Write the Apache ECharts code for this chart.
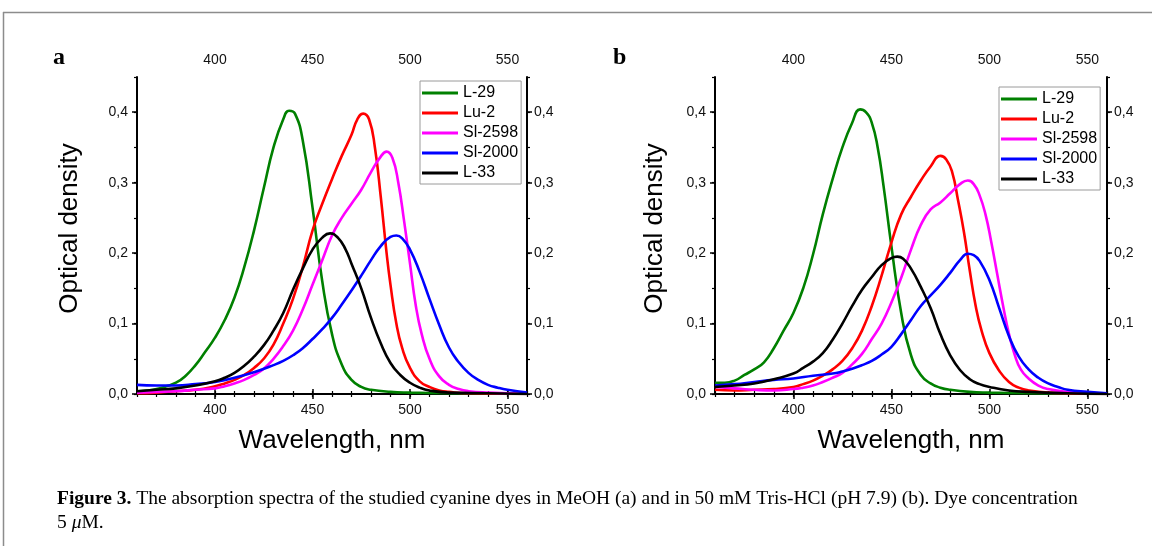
<!DOCTYPE html>
<html><head><meta charset="utf-8">
<script src="https://cdn.jsdelivr.net/npm/echarts@6/dist/echarts.min.js"></script>
<style>html,body{margin:0;padding:0;background:#fff}#c{width:1152px;height:546px}</style>
</head><body><div id="c"></div>
<script>
// ---- data ----
const seriesNames = ['L-29', 'Lu-2', 'Sl-2598', 'Sl-2000', 'L-33'];
const seriesColors = ['#008000', '#ff0000', '#ff00ff', '#0000ff', '#000000'];
const xTickLabels = [400, 450, 500, 550];
const yTickLabels = [0, 0.1, 0.2, 0.3, 0.4];

// Panel a (MeOH)
const a_L29 = [[360,0.004],[365,0.005],[370,0.007],[375,0.011],[380,0.016],[385,0.026],[390,0.041],[395,0.060],[400,0.080],[405,0.105],[410,0.137],[415,0.180],[420,0.232],[425,0.292],[430,0.350],[435,0.390],[438,0.402],[441,0.398],[445,0.360],[450,0.265],[455,0.160],[460,0.085],[465,0.042],[470,0.020],[475,0.010],[480,0.006],[490,0.003],[500,0.002],[520,0.001],[560,0.000]];
const a_Lu2 = [[360,0.001],[370,0.002],[380,0.004],[390,0.006],[400,0.011],[405,0.015],[410,0.020],[415,0.027],[420,0.037],[425,0.050],[430,0.070],[435,0.100],[440,0.135],[445,0.180],[450,0.232],[455,0.270],[460,0.305],[465,0.338],[470,0.368],[473,0.390],[476,0.398],[479,0.390],[482,0.350],[485,0.280],[488,0.200],[490,0.155],[493,0.100],[496,0.065],[500,0.037],[505,0.018],[510,0.010],[515,0.005],[520,0.003],[530,0.001],[560,0.000]];
const a_Sl2598 = [[360,0.002],[370,0.003],[380,0.004],[390,0.006],[400,0.008],[405,0.011],[410,0.015],[415,0.020],[420,0.027],[425,0.036],[430,0.050],[435,0.068],[440,0.090],[445,0.120],[450,0.155],[455,0.190],[460,0.225],[465,0.250],[470,0.270],[475,0.290],[480,0.315],[485,0.337],[488,0.344],[491,0.335],[494,0.300],[497,0.245],[500,0.185],[503,0.125],[506,0.085],[510,0.050],[515,0.025],[520,0.013],[525,0.007],[530,0.004],[540,0.002],[560,0.000]];
const a_Sl2000 = [[360,0.013],[370,0.012],[380,0.012],[390,0.014],[400,0.017],[410,0.023],[420,0.031],[430,0.041],[435,0.047],[440,0.055],[445,0.065],[450,0.078],[455,0.092],[460,0.108],[465,0.127],[470,0.147],[475,0.168],[480,0.190],[485,0.210],[490,0.223],[493,0.225],[496,0.221],[500,0.205],[505,0.173],[510,0.135],[515,0.098],[520,0.066],[525,0.045],[530,0.030],[535,0.020],[540,0.013],[545,0.009],[550,0.006],[560,0.002]];
const a_L33 = [[360,0.004],[370,0.006],[380,0.008],[390,0.012],[400,0.018],[405,0.023],[410,0.030],[415,0.040],[420,0.053],[425,0.069],[430,0.090],[435,0.115],[440,0.148],[445,0.178],[450,0.205],[455,0.222],[459,0.228],[463,0.222],[467,0.205],[470,0.185],[475,0.150],[480,0.108],[485,0.072],[490,0.044],[495,0.027],[500,0.016],[505,0.009],[510,0.005],[520,0.002],[540,0.001],[560,0.000]];

// Panel b (Tris-HCl)
const b_L29 = [[360,0.016],[365,0.016],[370,0.019],[375,0.027],[380,0.035],[385,0.045],[390,0.065],[395,0.090],[400,0.115],[405,0.150],[410,0.198],[415,0.255],[420,0.305],[425,0.350],[430,0.385],[434,0.404],[437,0.400],[440,0.385],[443,0.350],[446,0.295],[450,0.210],[455,0.115],[460,0.055],[465,0.027],[470,0.015],[475,0.009],[480,0.006],[490,0.003],[500,0.002],[520,0.001],[560,0.000]];
const b_Lu2 = [[360,0.006],[370,0.005],[380,0.006],[390,0.007],[400,0.010],[405,0.014],[410,0.019],[415,0.026],[420,0.035],[425,0.047],[430,0.065],[435,0.090],[440,0.125],[445,0.168],[450,0.215],[455,0.255],[460,0.280],[465,0.303],[470,0.323],[475,0.338],[478,0.333],[481,0.315],[484,0.275],[487,0.230],[490,0.175],[493,0.125],[496,0.090],[500,0.058],[505,0.033],[510,0.017],[515,0.009],[520,0.005],[530,0.002],[560,0.000]];
const b_Sl2598 = [[360,0.010],[365,0.009],[370,0.008],[380,0.006],[390,0.005],[400,0.007],[405,0.009],[410,0.012],[415,0.017],[420,0.023],[425,0.030],[430,0.042],[435,0.057],[440,0.078],[445,0.100],[450,0.130],[455,0.165],[460,0.205],[465,0.240],[470,0.262],[475,0.272],[480,0.285],[485,0.298],[489,0.303],[492,0.298],[495,0.282],[498,0.255],[501,0.215],[504,0.170],[507,0.125],[510,0.085],[513,0.055],[516,0.035],[520,0.022],[525,0.012],[530,0.007],[540,0.003],[560,0.000]];
const b_Sl2000 = [[360,0.012],[370,0.014],[380,0.017],[390,0.020],[400,0.022],[410,0.026],[420,0.029],[425,0.032],[430,0.036],[435,0.041],[440,0.047],[445,0.056],[450,0.067],[455,0.085],[460,0.105],[465,0.125],[470,0.140],[475,0.155],[480,0.172],[485,0.190],[489,0.199],[492,0.197],[495,0.189],[500,0.162],[505,0.122],[510,0.082],[515,0.053],[520,0.035],[525,0.023],[530,0.015],[535,0.010],[540,0.006],[550,0.003],[560,0.001]];
const b_L33 = [[360,0.010],[370,0.012],[380,0.015],[390,0.021],[400,0.029],[405,0.037],[410,0.046],[415,0.058],[420,0.077],[425,0.100],[430,0.125],[435,0.148],[440,0.166],[445,0.183],[450,0.193],[453,0.195],[456,0.192],[460,0.178],[465,0.152],[470,0.122],[475,0.085],[480,0.055],[485,0.034],[490,0.021],[495,0.014],[500,0.010],[510,0.005],[520,0.003],[540,0.001],[560,0.000]];

const panelA = [a_L29, a_Lu2, a_Sl2598, a_Sl2000, a_L33];
const panelB = [b_L29, b_Lu2, b_Sl2598, b_Sl2000, b_L33];

const captionBold = 'Figure 3.';
const captionLine1 = ' The absorption spectra of the studied cyanine dyes in MeOH (a) and in 50 mM Tris-HCl (pH 7.9) (b). Dye concentration';
const captionLine2a = '5 ';
const captionMu = 'μ';
const captionLine2b = 'M.';

// ---- chart ----
const FONT = 'Liberation Sans, Arial, sans-serif';
const SERIF = 'Liberation Serif, Times New Roman, serif';
const grids = [
  {left: 137, top: 77, width: 390, height: 317},
  {left: 715, top: 77, width: 392, height: 317}
];
const fmtY = v => v.toFixed(1).replace('.', ',');

const xAxes = [], yAxes = [];
grids.forEach((g, gi) => {
  const axLine = {show: true, lineStyle: {color: '#000', width: 2}};
  const baseX = {type: 'value', gridIndex: gi, min: 360, max: 560, splitLine: {show: false}};
  const baseY = {type: 'value', gridIndex: gi, min: 0, max: 0.45, splitLine: {show: false}};
  const lbl = {fontFamily: FONT, fontSize: 14, color: '#111'};
  xAxes.push(Object.assign({}, baseX, {
    position: 'bottom', axisLine: axLine,
    axisTick: {show: true, length: 5, lineStyle: {width: 1.5, color: '#000'}, customValues: xTickLabels},
    axisLabel: Object.assign({show: true, customValues: xTickLabels, margin: 9}, lbl),
    name: 'Wavelength, nm', nameLocation: 'middle', nameGap: 34,
    nameTextStyle: {fontFamily: FONT, fontSize: 26, color: '#000'}
  }));
  xAxes.push(Object.assign({}, baseX, {
    position: 'top', axisLine: axLine,
    axisTick: {show: true, length: 5, lineStyle: {width: 1.5, color: '#000'}, customValues: xTickLabels},
    axisLabel: Object.assign({show: true, customValues: xTickLabels, margin: 10}, lbl)
  }));
  ['bottom', 'top'].forEach(p => xAxes.push(Object.assign({}, baseX, {
    position: p, interval: 10, axisLine: {show: false},
    axisTick: {show: true, length: 3, lineStyle: {width: 1.2, color: '#000'}},
    axisLabel: {show: false}
  })));
  yAxes.push(Object.assign({}, baseY, {
    position: 'left', axisLine: axLine,
    axisTick: {show: true, length: 5, lineStyle: {width: 1.5, color: '#000'}, customValues: yTickLabels},
    axisLabel: Object.assign({show: true, customValues: yTickLabels, formatter: fmtY, margin: 9}, lbl),
    name: 'Optical density', nameLocation: 'middle', nameGap: gi === 0 ? 54 : 47, nameRotate: 90,
    nameTextStyle: {fontFamily: FONT, fontSize: 26, color: '#000', padding: [0, 0, 0, 14]}
  }));
  yAxes.push(Object.assign({}, baseY, {
    position: 'right', axisLine: axLine,
    axisTick: {show: true, length: 5, lineStyle: {width: 1.5, color: '#000'}, customValues: yTickLabels},
    axisLabel: Object.assign({show: true, customValues: yTickLabels, formatter: fmtY, margin: 7}, lbl)
  }));
  ['left', 'right'].forEach(p => yAxes.push(Object.assign({}, baseY, {
    position: p, interval: 0.05, axisLine: {show: false},
    axisTick: {show: true, length: 3, lineStyle: {width: 1.2, color: '#000'}},
    axisLabel: {show: false}
  })));
});

const series = [];
[panelA, panelB].forEach((panel, gi) => {
  panel.forEach((data, i) => {
    series.push({
      type: 'line', name: seriesNames[i], xAxisIndex: gi * 4, yAxisIndex: gi * 4,
      data: data, smooth: 0.5, symbol: 'none', showSymbol: false,
      lineStyle: {color: seriesColors[i], width: 2.6}, itemStyle: {color: seriesColors[i]},
      z: 3
    });
  });
});

const legendBase = {
  orient: 'vertical', data: seriesNames, icon: 'rect', itemWidth: 36, itemHeight: 3, itemGap: 4,
  padding: [4, 3, 3, 2], borderColor: '#9a9a9a', borderWidth: 1, backgroundColor: '#fff',
  textStyle: {fontFamily: FONT, fontSize: 16, color: '#000', lineHeight: 16},
  selectedMode: false
};

const option = {
  animation: false,
  backgroundColor: '#fff',
  grid: grids,
  xAxis: xAxes,
  yAxis: yAxes,
  series: series,
  legend: [
    Object.assign({}, legendBase, {left: 420, top: 81}),
    Object.assign({}, legendBase, {left: 999, top: 87})
  ],
  title: [
    {text: 'a', left: 53, top: 46, padding: 0, textStyle: {fontFamily: SERIF, fontWeight: 'bold', fontSize: 24, color: '#000'}},
    {text: 'b', left: 613, top: 46, padding: 0, textStyle: {fontFamily: SERIF, fontWeight: 'bold', fontSize: 24, color: '#000'}},
    {text: '{b|' + captionBold + '}' + captionLine1, left: 57, top: 489, padding: 0,
     textStyle: {fontFamily: SERIF, fontSize: 19.5, color: '#000', fontWeight: 'normal',
       rich: {b: {fontFamily: SERIF, fontSize: 19.5, fontWeight: 'bold', color: '#000'}}}},
    {text: captionLine2a + '{i|' + captionMu + '}' + captionLine2b, left: 57, top: 513, padding: 0,
     textStyle: {fontFamily: SERIF, fontSize: 19.5, color: '#000', fontWeight: 'normal',
       rich: {i: {fontFamily: SERIF, fontSize: 19.5, fontStyle: 'italic', color: '#000'}}}}
  ],
  graphic: [
    {type: 'line', shape: {x1: 3, y1: 12.5, x2: 1152, y2: 12.5}, style: {stroke: '#8c8c8c', lineWidth: 1.5}},
    {type: 'line', shape: {x1: 3.5, y1: 12, x2: 3.5, y2: 546}, style: {stroke: '#8c8c8c', lineWidth: 1.5}}
  ]
};

const chart = echarts.init(document.getElementById('c'), null, {renderer: 'canvas'});
chart.setOption(option);
</script>
</body></html>
